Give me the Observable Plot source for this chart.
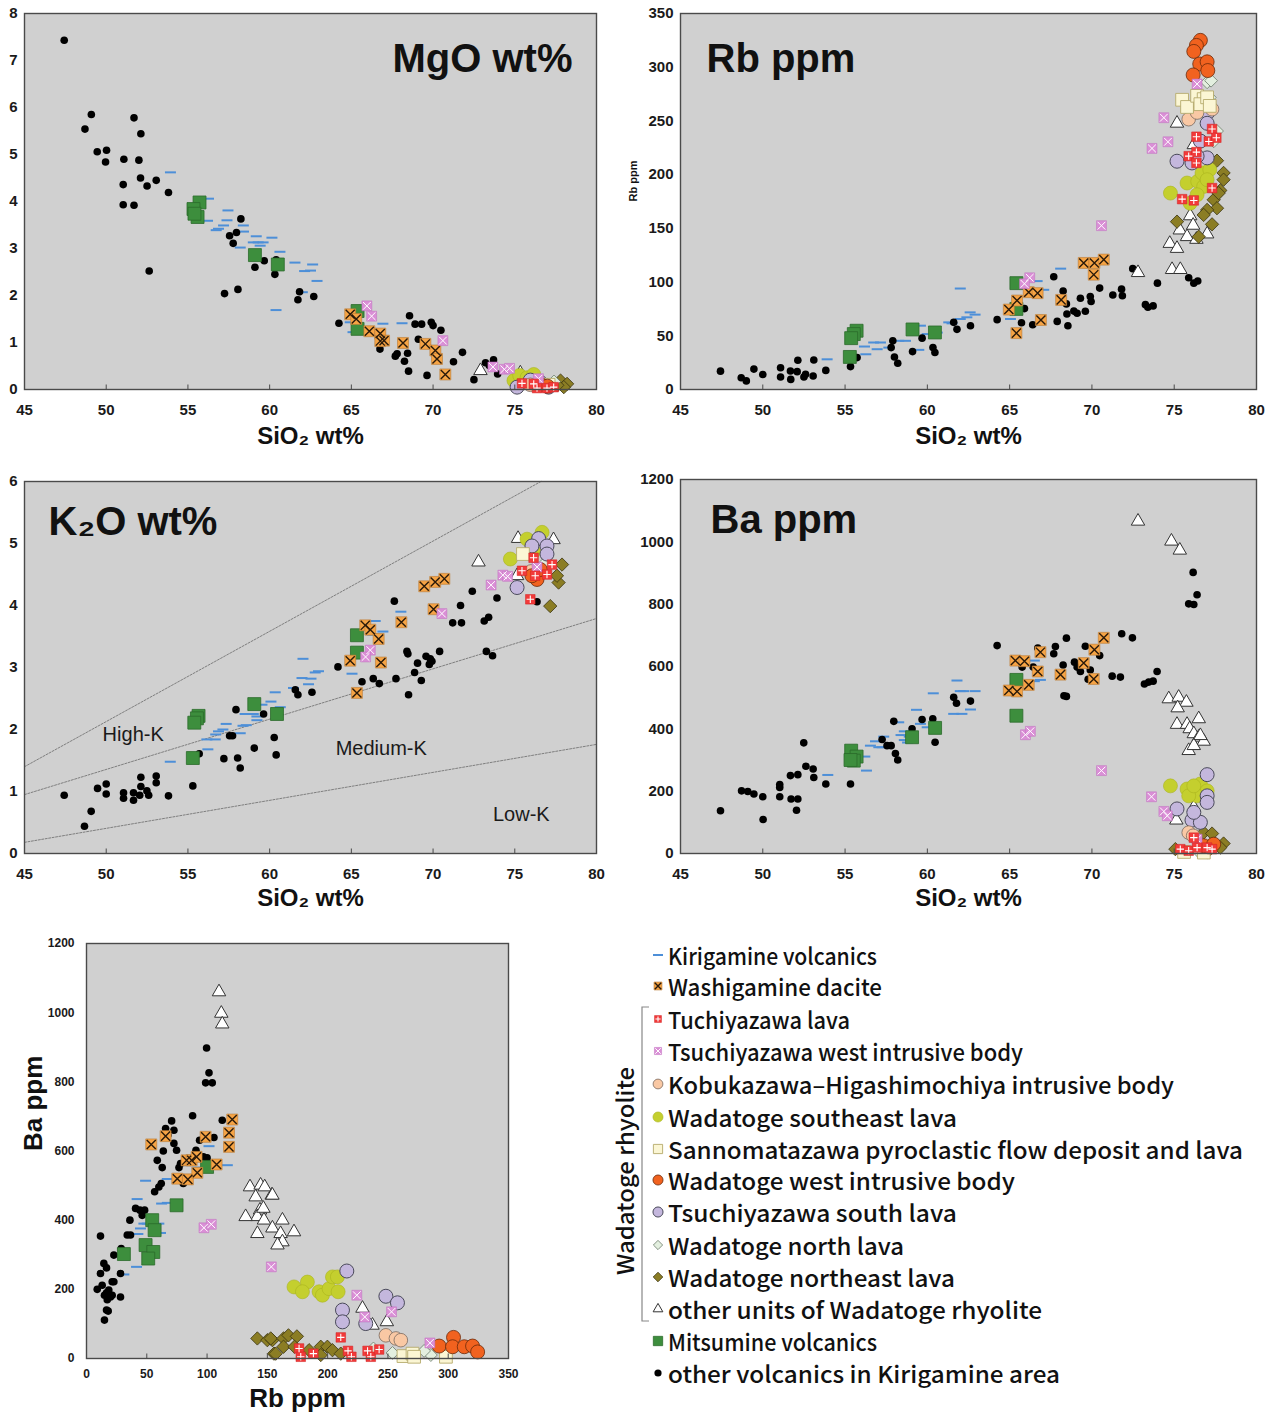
<!DOCTYPE html>
<html><head><meta charset="utf-8">
<script src="https://cdn.jsdelivr.net/npm/d3@7"></script>
<script src="https://cdn.jsdelivr.net/npm/@observablehq/plot@0.6"></script>
<style>
body{margin:0;background:#fff;}
#root{position:relative;width:1272px;height:1414px;overflow:hidden;background:#fff;}
.panel{position:absolute;}
</style></head><body><div id="root"></div><script>
// ---------------- DATA ----------------
// MgO wt% vs SiO2 wt%
const mgoOther=[[47.43,7.43],[49.09,5.85],[48.7,5.54],[49.45,5.06],[50.02,5.09],[49.96,4.84],[51.08,4.9],[51.04,4.36],[51.04,3.93],[51.7,3.92],[51.7,5.78],[52.12,5.44],[52.0,4.88],[52.1,4.5],[52.5,4.33],[53.06,4.45],[53.81,4.19],[52.63,2.52],[57.24,2.04],[58.06,2.13],[57.55,3.27],[57.77,3.11],[57.97,3.34],[58.24,3.63],[59.1,2.6],[59.67,2.74],[60.32,2.45],[60.4,2.76],[61.83,2.08],[61.73,1.91],[62.7,1.98],[64.24,1.41],[66.75,0.86],[68.56,1.57],[68.9,1.39],[69.3,1.39],[69.89,1.43],[70.0,1.36],[69.1,1.07],[67.69,0.71],[67.8,0.76],[68.25,0.6],[68.44,0.77],[68.5,0.39],[69.63,0.3],[70.48,1.26],[71.25,0.59],[71.8,0.79],[72.5,0.21],[73.21,0.57],[73.7,0.63],[73.44,0.51],[73.95,0.33],[76.15,0.35]];
const mgoKiri=[[53.93,4.62],[56.26,4.06],[56.2,3.59],[56.73,3.39],[56.87,3.42],[57.18,3.49],[57.45,3.81],[57.39,3.6],[58.39,3.49],[58.4,3.36],[58.2,3.02],[59.18,3.26],[59.0,3.13],[59.3,3.13],[59.6,3.13],[59.42,3.06],[60.14,3.23],[60.63,2.93],[60.39,1.69],[61.55,2.7],[62.14,2.52],[62.5,2.53],[62.63,2.66],[62.0,2.07],[62.9,2.31],[64.93,1.43],[66.93,1.4],[68.1,1.41],[66.52,1.2],[65.1,1.22]];
const mgoMitsu=[[55.71,3.98],[55.34,3.84],[55.59,3.67],[55.4,3.74],[59.1,2.86],[60.5,2.66],[65.38,1.67],[65.38,1.29]];
const mgoWashi=[[64.93,1.6],[65.3,1.5],[66.1,1.24],[66.77,1.19],[67.0,1.04],[66.77,1.03],[68.16,0.99],[69.53,0.97],[70.14,0.83],[70.24,0.65],[70.75,0.32]];
const mgoTsw=[[65.95,1.78],[66.24,1.56],[70.6,1.04],[73.66,0.48],[74.36,0.43],[74.68,0.45],[76.45,0.23]];
const mgoTri=[[72.9,0.4],[75.34,0.35]];
const mgoYgr=[[74.95,0.19],[75.3,0.3],[75.75,0.25],[76.16,0.32]];
const mgoLav=[[75.14,0.05],[75.95,0.2],[77.07,0.05],[76.57,0.15]];
const mgoRed=[[75.44,0.13],[76.36,0.03],[76.97,0.03],[77.38,0.05],[76.16,0.12]];
const mgoOlive=[[77.8,0.19],[78.2,0.12],[78.0,0.05],[77.6,0.09]];
const mgoOred=[[76.6,0.1],[77.0,0.07]];
const mgoPeach=[[75.95,0.1]];
const mgoCream=[[77.07,0.1]];
const mgoPale=[[77.4,0.17]];

// Rb ppm vs SiO2 wt%
const rbOther=[[47.43,17.1],[48.69,11],[49.0,8],[49.46,19],[50.0,14],[51.08,20.3],[51.08,11.6],[51.68,17.2],[51.7,9.4],[52.09,16.6],[52.13,27.2],[52.5,11.6],[52.6,14.1],[53.06,12.5],[53.1,27.5],[53.83,17.8],[55.33,21.3],[55.73,29.7],[57.9,45.3],[58.0,30.3],[58.2,24.4],[57.8,39],[59.1,35.3],[59.68,47.8],[60.34,39],[60.46,34.4],[61.6,62.5],[61.8,56],[62.62,59.4],[64.24,65],[65.72,62.2],[66.4,60.3],[65.9,75.3],[67.68,105],[68.25,91.6],[68.45,79.7],[68.48,70.3],[68.54,59.4],[67.89,63.4],[68.9,73],[69.1,71],[69.6,72.8],[69.3,85],[69.9,86.6],[69.95,81.9],[70.47,94.4],[71.27,88],[71.8,93.4],[71.85,87.2],[72.48,112.5],[73.25,79],[73.4,76.6],[73.72,77.8],[73.98,99],[75.88,104],[76.19,99],[76.43,101]];
const rbKiri=[[53.91,28.1],[56.26,32.8],[56.18,40],[56.74,43.75],[57.15,43.75],[56.95,37.5],[57.66,39],[58.26,45.3],[58.67,45.3],[59.58,59.4],[59.48,36.9],[59.99,51.6],[60.6,53],[61.3,62.5],[62.0,94],[62.6,71.8],[62.9,69.7],[62.4,67.2],[62.0,65.6],[61.5,61.6],[65.05,65.6],[66.67,100.9],[67.07,92.8],[68.1,112.5]];
const rbMitsu=[[55.7,54.7],[55.53,51.6],[55.37,47.8],[55.29,30.3],[59.1,55.9],[60.46,53.1],[65.41,99],[65.41,75]];
const rbWashi=[[69.5,117.8],[70.15,117.8],[70.72,120.9],[70.11,106.9],[65.41,52.5],[64.95,74.4],[65.45,82.8],[66.16,90.6],[66.7,89.7],[66.9,64.7],[68.13,83.4]];
const rbTsw=[[66.22,104],[65.9,98.4],[70.58,152.5],[74.37,253],[74.62,230.6],[73.65,224.4],[76.39,284.4]];
const rbOred=[[76.59,325],[76.35,320.3],[76.19,314.7],[76.55,303],[77.0,305],[77.04,296.9],[76.15,292.8]];
const rbCream=[[75.48,269.7],[75.78,263],[76.39,273.4],[76.79,270.3],[76.59,265.6],[77.0,272],[77.16,264]];
const rbPale=[[77.0,286],[77.24,287.5],[77.16,271.9],[77.6,240.6],[77.4,231]];
const rbPeach=[[75.88,251.6],[76.39,257.8],[77.3,260.9],[77.0,267]];
const rbLav=[[77.04,257.8],[77.0,247.8],[76.59,231.25],[75.17,212.5],[76.08,210.9],[77.0,215.6],[76.39,217.2]];
const rbRed=[[76.35,235.3],[77.3,242.5],[77.1,230.9],[77.56,234.4],[75.88,217.2],[76.35,221],[76.35,210.9],[77.3,187.5],[75.48,177.2],[76.19,176]];
const rbYgr=[[74.77,182.8],[75.78,192.2],[76.43,193.75],[76.69,201.6],[77.16,204.7],[76.79,189],[76.39,181.25],[75.97,173.4],[77.0,195.3]];
const rbOlive=[[77.6,213],[78.0,201.6],[78.0,195.3],[77.8,185.3],[77.4,176.6],[77.6,168.75],[77.0,167.2],[76.79,162.5],[77.3,153.75],[76.49,142.2],[75.17,156.25],[77.7,182.8]];
const rbTri=[[75.17,247.8],[76.19,227.8],[75.97,161.6],[76.15,152.8],[75.34,148.4],[75.78,142.2],[76.35,139.7],[77.0,144.7],[74.73,135.9],[75.17,131.25],[74.87,111.6],[75.37,111.6],[72.8,108.75]];

// K2O wt% vs SiO2 wt%
const k2oOther=[[47.43,0.94],[48.67,0.44],[49.08,0.68],[49.47,1.05],[50.0,1.12],[50.0,0.96],[51.06,0.98],[51.06,0.89],[51.67,0.98],[51.67,0.86],[52.12,1.23],[52.12,1.08],[52.05,0.94],[52.49,1.01],[52.6,0.94],[53.06,1.25],[53.06,1.14],[53.81,0.93],[55.3,1.09],[55.69,1.61],[57.2,1.53],[57.55,1.9],[57.73,1.9],[57.94,2.32],[58.04,1.54],[58.2,1.38],[59.06,1.7],[59.63,2.25],[60.28,1.87],[60.4,1.59],[61.57,2.64],[61.73,2.56],[62.59,2.6],[64.18,3.01],[65.65,2.77],[66.34,2.82],[66.71,2.74],[67.63,4.07],[67.73,2.82],[68.4,3.26],[68.46,3.22],[68.5,2.56],[68.87,2.92],[69.05,3.07],[69.28,2.79],[69.57,3.18],[69.83,3.14],[69.77,3.05],[69.93,3.1],[70.4,3.26],[71.2,3.72],[71.74,3.72],[71.68,4.0],[72.4,4.23],[73.13,3.75],[73.4,3.81],[73.26,3.26],[73.64,3.19],[73.91,4.12],[76.36,4.06]];
const k2oKiri=[[53.92,1.48],[56.22,1.68],[56.16,1.84],[56.67,1.84],[56.87,1.97],[57.14,2.0],[57.34,2.09],[56.7,1.92],[58.2,1.94],[58.37,2.06],[58.57,2.07],[58.5,2.25],[59.0,2.25],[59.22,2.21],[59.22,2.15],[59.53,2.4],[60.08,2.45],[60.34,2.6],[60.65,2.36],[62.04,3.14],[61.98,2.83],[62.53,2.82],[62.38,2.73],[62.79,2.92],[62.99,2.94],[61.46,2.67],[65.04,2.9],[66.46,3.75],[66.93,3.58],[68.03,3.9],[66.3,3.53]];
const k2oMitsu=[[55.65,2.22],[55.55,2.18],[55.39,2.11],[55.3,1.54],[59.06,2.41],[60.45,2.25],[65.34,3.52],[65.34,3.24]];
const k2oWashi=[[69.46,4.31],[70.13,4.38],[70.69,4.43],[70.03,3.94],[68.06,3.73],[65.85,3.68],[66.16,3.61],[66.67,3.46],[64.93,3.11],[66.81,3.08],[65.34,2.59]];
const k2oTsw=[[66.16,3.28],[65.87,3.17],[70.54,3.87],[73.55,4.33],[74.27,4.49],[74.56,4.47],[76.36,4.62]];
const k2oTri=[[72.78,4.7],[75.2,5.08],[77.37,5.06],[75.14,4.48]];
const k2oYgr=[[74.73,4.75],[76.67,5.18],[75.75,5.07],[76.15,4.87]];
const k2oLav=[[76.46,5.08],[76.97,4.96],[76.97,4.83],[76.05,4.96],[75.14,4.29]];
const k2oRed=[[76.15,4.77],[75.44,4.56],[77.28,4.66],[76.97,4.5],[76.25,4.48],[75.95,4.1]];
const k2oOred=[[76.36,4.42],[76.05,4.48],[76.56,4.58]];
const k2oOlive=[[77.89,4.66],[77.68,4.37],[77.17,3.99],[77.58,4.48]];
const k2oCream=[[75.5,4.83]];
const k2oPeach=[[76.0,4.55]];
const k2oPale=[[76.9,4.7]];
// K2O series boundary lines (SiO2, K2O) and field names
const kHighLine=[[45,1.4],[76.6,6.0]];
const kMedLine=[[45,0.95],[80,3.79]];
const kLowLine=[[45,0.18],[80,1.76]];
const kFieldNames=["High-K","Medium-K","Low-K"];
const kFieldX=[51.65,66.83,75.4];
const kFieldY=[1.91,1.7,0.62];

// Ba ppm vs SiO2 wt%
const baOther=[[47.43,137],[48.71,201],[49.09,199],[49.46,191],[50.0,182],[50.02,109],[51.03,221],[51.03,212],[51.03,182],[51.68,250],[51.72,175],[52.05,139],[52.13,175],[52.13,253],[52.49,355],[52.62,280],[53.06,271],[53.1,244],[53.83,223],[55.33,223],[57.25,366],[57.55,346],[57.8,346],[58.06,321],[58.2,300],[57.96,424],[59.07,400],[59.68,430],[60.33,432],[60.47,357],[61.6,501],[61.77,482],[62.62,489],[64.24,667],[66.71,659],[66.43,598],[67.78,664],[67.68,641],[68.45,691],[68.25,605],[68.94,614],[69.1,598],[69.3,584],[69.6,665],[69.9,589],[69.77,559],[70.47,635],[68.45,504],[68.3,506],[71.81,705],[72.46,692],[71.23,569],[71.73,566],[73.19,544],[73.45,550],[73.72,553],[73.96,584],[76.15,902],[76.39,830],[75.88,801],[76.19,799],[65.76,598]];
const baKiri=[[53.95,252],[56.2,311],[56.3,266],[56.54,346],[56.85,360],[57.05,341],[57.25,341],[57.35,375],[58.26,421],[58.4,380],[58.6,364],[58.8,356],[58.6,392],[58.9,375],[59.34,461],[59.58,416],[59.99,405],[60.4,416],[60.36,514],[61.6,448],[61.8,555],[62.0,521],[62.2,521],[62.9,521],[62.1,448],[62.62,462],[66.5,619],[66.87,557],[66.5,553]];
const baMitsu=[[55.37,330],[55.7,311],[55.53,298],[55.33,300],[59.07,373],[60.47,403],[65.41,557],[65.41,442]];
const baWashi=[[65.35,619],[65.9,617],[64.95,523],[65.45,520],[66.16,541],[66.71,584],[66.87,646],[68.09,574],[69.5,611],[70.15,654],[70.72,692],[70.11,560]];
const baTsw=[[65.96,381],[66.26,392],[70.58,266],[73.62,182],[74.37,135],[74.58,121],[76.39,46]];
const baTri=[[72.8,1066],[74.83,1002],[75.34,973],[74.67,496],[75.27,501],[75.74,485],[75.21,467],[75.17,414],[75.78,414],[75.94,400],[76.49,432],[76.19,384],[76.49,373],[76.79,360],[75.88,330],[76.19,346],[76.59,378],[75.13,107],[76.19,148]];
const baLav=[[77.0,253],[77.0,185],[77.0,164],[75.17,143],[76.08,107],[76.59,100],[76.19,132]];
const baYgr=[[74.77,217],[75.78,207],[76.59,223],[77.0,201],[76.39,185],[75.88,185],[76.19,217]];
const baPeach=[[75.88,67],[76.15,57]];
const baRed=[[75.37,14],[75.88,9],[76.39,19],[77.0,19],[77.3,14],[76.19,51]];
const baOlive=[[75.07,14],[76.79,67],[77.3,64],[78.0,32],[77.8,19],[77.0,5]];
const baCream=[[75.6,5],[76.8,3]];
const baOred=[[76.79,25],[77.4,30]];
const baPale=[[76.5,5]];

// Ba ppm vs Rb ppm
const brOther=[[11.6,354],[14.4,275],[16.6,262],[11.6,246],[13,212],[8.9,200],[16.6,190],[14.9,183],[17.2,170],[19.9,178],[21.3,222],[22.7,222],[18.5,198],[16.6,140],[18,137],[14.9,111],[28.2,178],[21.3,183],[22.7,299],[28.2,246],[28.8,318],[36,400],[33.8,357],[36.5,357],[40.7,434],[44.3,429],[48.2,429],[46.2,414],[56.5,482],[60,496],[62,506],[58.7,573],[63.7,600],[62.8,552],[65.6,665],[67.5,646],[70.6,687],[72.5,660],[72.5,622],[74.7,602],[78,564],[76.7,552],[80.3,506],[83.6,578],[88,702],[90.8,602],[93.8,631],[96.9,583],[100,580],[99.6,898],[101.6,826],[98.8,797],[104.3,797],[105.7,639],[112.6,689]];
const brKiri=[[31,243],[41.5,265],[42,461],[37.1,360],[42.6,360],[44.8,376],[47.6,390],[50.4,390],[54.5,388],[60,390],[61.4,363],[49,514],[67,519],[62.3,448],[67,450],[82.2,559],[91.9,552],[101.6,614],[116.8,559]];
const brMitsu=[[31,302],[54.5,400],[56.5,371],[49,328],[55.4,308],[51.2,289],[74.7,443],[100,554]];
const brWashi=[[53.7,619],[65.6,643],[83,573],[87.2,573],[91.3,583],[75.3,520],[84.1,518],[91.9,537],[98.8,641],[107.9,561],[120.9,691],[118.2,653],[118.2,612]];
const brTsw=[[97.4,378],[103.5,388],[153.3,265],[224.2,183],[230.8,120],[253,135],[284.8,45]];
const brTri=[[109.9,1060],[111.8,998],[112.6,967],[135.6,496],[144.4,501],[153.6,472],[140.3,467],[143.9,429],[141.7,410],[132,410],[147.2,400],[141.7,361],[147.8,496],[154.2,472],[146.7,434],[162.5,400],[172.1,366],[154.2,377],[161,361],[162.5,337],[158.4,328],[228.9,145],[249.1,106],[237.2,96]];
const brYgr=[[172.1,207],[183.2,221],[192.9,193],[195.7,183],[201.2,202],[204,236],[208.1,236],[208.7,193],[179.1,193]];
const brLav=[[215.9,253],[212.3,140],[212.3,106],[248.3,180],[257.9,161],[231.6,101]];
const brPeach=[[248.3,67],[256.6,58],[260.7,53]];
const brCream=[[262.9,7],[270.4,14],[271.7,5],[298.1,5]];
const brPale=[[253.8,16],[285.6,10],[280,22],[238,29]];
const brOred=[[292.5,36],[304.4,61],[303.6,34],[313.3,34],[320.2,36],[324.4,19]];
const brRed=[[176.3,29],[177.7,5],[188.2,14],[210.9,61],[216.9,22],[219.7,5],[233.1,22],[235.8,5],[242.7,26]];
const brOlive=[[141.7,58],[150,53],[154.2,53],[155.5,14],[152.8,58],[163.4,58],[167.5,67],[174.5,64],[156.9,14],[163.4,34],[194.3,34],[199.8,34],[194.3,10],[204,24],[210.9,14],[172.5,34],[184.6,24]];

// tick values and texts
const sio2Ticks=[45,50,55,60,65,70,75,80];
const mgoTicks=[0,1,2,3,4,5,6,7,8];
const rbTicks=[0,50,100,150,200,250,300,350];
const k2oTicks=[0,1,2,3,4,5,6];
const baTicks=[0,200,400,600,800,1000,1200];
const legendKeys=["kiri","washi","red","tsw","peach","ygr","cream","ored","lav","pale","olive","tri","mitsu","other"];
const legendLabels=["Kirigamine volcanics","Washigamine dacite","Tuchiyazawa lava","Tsuchiyazawa west intrusive body","Kobukazawa\u2013Higashimochiya intrusive body","Wadatoge southeast lava","Sannomatazawa pyroclastic flow deposit and lava","Wadatoge west intrusive body","Tsuchiyazawa south lava","Wadatoge north lava","Wadatoge northeast lava","other units of Wadatoge rhyolite","Mitsumine volcanics","other volcanics in Kirigamine area"];
const groupLabel="Wadatoge rhyolite";

// ---------------- STYLES ----------------
const dashSym={draw(ctx,size){const w=Math.sqrt(size)*0.62;ctx.moveTo(-w,0);ctx.lineTo(w,0);}};
const upTick={draw(ctx){ctx.moveTo(0,0);ctx.lineTo(0,-5);}};
const ST={
  kiri:{sym:dashSym,r:5,fill:"none",stroke:"#4d8fd8",sw:2},
  washi:{sym:"square",r:6.2,fill:"#f6a445",stroke:"#b87a35",sw:0.6,over:{sym:"times",r:4.2,stroke:"#2a1a0a",sw:1.4}},
  red:{sym:"square",r:5.4,fill:"#f23a3a",stroke:"#d02020",sw:0.5,over:{sym:"plus",r:2.5,stroke:"#ffffff",sw:1.1}},
  tsw:{sym:"square",r:5.6,fill:"#da8fd6",stroke:"#c070c0",sw:0.5,over:{sym:"times",r:3.6,stroke:"#ffffff",sw:1}},
  peach:{sym:"circle",r:6.8,fill:"#f9c8a4",stroke:"#7a6a60",sw:0.8},
  ygr:{sym:"circle",r:7,fill:"#c4cf2e",stroke:"#aab31e",sw:0.6},
  cream:{sym:"square",r:7.2,fill:"#fbf6d4",stroke:"#b6aa6c",sw:0.9},
  ored:{sym:"circle",r:7,fill:"#f1621f",stroke:"#6a2a0a",sw:0.8},
  lav:{sym:"circle",r:7,fill:"#c4b7dd",stroke:"#4a4a5a",sw:1},
  pale:{sym:"diamond2",r:5.8,fill:"#e3efdf",stroke:"#6a7a6a",sw:0.8},
  olive:{sym:"diamond2",r:6,fill:"#8b7d24",stroke:"#3a3310",sw:0.8},
  tri:{sym:"triangle",r:5,fill:"#ffffff",stroke:"#333333",sw:1},
  mitsu:{sym:"square",r:7.3,fill:"#3d8e3d",stroke:"#2b6b2b",sw:0.8},
  other:{sym:"circle",r:3.8,fill:"#000000",stroke:"none",sw:0}
};
const FONT="'Liberation Sans', Arial, sans-serif";

function layer(data,key,k=1){
  const s=ST[key];
  const m=[Plot.dot(data,{x:d=>d[0],y:d=>d[1],symbol:s.sym,r:s.r*k,fill:s.fill,stroke:s.stroke,strokeWidth:s.sw})];
  if(s.over) m.push(Plot.dot(data,{x:d=>d[0],y:d=>d[1],symbol:s.over.sym,r:s.over.r*k,fill:"none",stroke:s.over.stroke,strokeWidth:s.over.sw}));
  return m;
}

function panel(c){
  const [mt,mr,mb,ml]=c.margin;
  const marks=[
    Plot.frame({fill:"#d0d0d0",stroke:"none"}),
    ...(c.under||[]),
    ...c.layers.flatMap(([d,k])=>layer(d,k,c.k||1)),
    Plot.frame({stroke:"#4a4a4a",strokeWidth:1.4}),
    Plot.dot(c.xTicks,{x:d=>d,y:c.yDomain[0],symbol:upTick,stroke:"#4a4a4a",strokeWidth:1}),
    Plot.axisX({ticks:c.xTicks,tickSize:0,tickPadding:c.xPad,fontSize:c.tickFont,fontWeight:"bold",fill:"#1a1a1a",label:null,tickFormat:d=>String(d)}),
    Plot.axisY({ticks:c.yTicks,tickSize:0,tickPadding:c.yPad,fontSize:c.tickFont,fontWeight:"bold",fill:"#1a1a1a",label:null,tickFormat:d=>String(d)}),
    Plot.text([c.xTitle],{frameAnchor:"bottom",lineAnchor:"middle",dy:c.xTitleDy,text:d=>d,fontSize:c.xTitleSize,fontWeight:"bold",fill:"#111",ariaLabel:"xtitle"}),
  ];
  if(c.title) marks.push(Plot.text([c.title],{frameAnchor:c.titleAnchor,lineAnchor:"middle",dx:c.titleDx,dy:c.titleDy,text:d=>d,textAnchor:c.titleTextAnchor,fontSize:40,fontWeight:"bold",fill:"#111",ariaLabel:"ptitle"}));
  if(c.yTitle) marks.push(Plot.text([c.yTitle],{frameAnchor:"left",lineAnchor:"middle",dx:c.yTitleDx,rotate:-90,text:d=>d,fontSize:c.yTitleSize,fontWeight:"bold",fill:"#111",ariaLabel:"ytitle"}));
  if(c.extra) marks.push(...c.extra);
  const svg=Plot.plot({
    width:c.width,height:c.height,marginTop:mt,marginRight:mr,marginBottom:mb,marginLeft:ml,
    style:{fontFamily:FONT,background:"transparent",overflow:"visible"},
    x:{domain:c.xDomain},y:{domain:c.yDomain},
    marks
  });
  const sel=d3.select(svg);
  if(c.titleLen) sel.selectAll('g[aria-label="ptitle"] text').attr("textLength",c.titleLen).attr("lengthAdjust","spacingAndGlyphs");
  if(c.xTitleLen) sel.selectAll('g[aria-label="xtitle"] text').attr("textLength",c.xTitleLen).attr("lengthAdjust","spacingAndGlyphs");
  if(c.yTitleLen) sel.selectAll('g[aria-label="ytitle"] text').attr("textLength",c.yTitleLen).attr("lengthAdjust","spacingAndGlyphs");
  const div=document.createElement("div");
  div.className="panel";div.style.left=c.left+"px";div.style.top=c.top+"px";
  div.appendChild(svg);
  document.getElementById("root").appendChild(div);
}

const ORDER=["kiri","other","mitsu","washi","tri","olive","pale","ygr","lav","peach","cream","ored","tsw","red"];
function layersOf(obj){return ORDER.filter(k=>obj[k]).map(k=>[obj[k],k]);}

// Panel 1: MgO
panel({left:0,top:0,width:620,height:460,margin:[13,24,71,24],xDomain:[45,80],yDomain:[0,8],xTicks:sio2Ticks,yTicks:mgoTicks,
  tickFont:15,xPad:15,yPad:7,xTitle:"SiO\u2082 wt%",xTitleDy:47,xTitleSize:24,xTitleLen:110,
  title:"MgO wt%",titleAnchor:"top-right",titleDx:-24,titleDy:46,titleTextAnchor:"end",titleLen:170,
  layers:layersOf({kiri:mgoKiri,other:mgoOther,mitsu:mgoMitsu,washi:mgoWashi,tri:mgoTri,olive:mgoOlive,pale:mgoPale,ygr:mgoYgr,lav:mgoLav,peach:mgoPeach,cream:mgoCream,ored:mgoOred,tsw:mgoTsw,red:mgoRed})});

// Panel 2: Rb
panel({left:620,top:0,width:652,height:460,margin:[13,16,71,60],xDomain:[45,80],yDomain:[0,350],xTicks:sio2Ticks,yTicks:rbTicks,
  tickFont:15,xPad:15,yPad:7,xTitle:"SiO\u2082 wt%",xTitleDy:47,xTitleSize:24,xTitleLen:110,
  title:"Rb ppm",titleAnchor:"top-left",titleDx:26,titleDy:46,titleTextAnchor:"start",titleLen:144,
  yTitle:"Rb ppm",yTitleDx:-47,yTitleSize:11,
  layers:layersOf({kiri:rbKiri,other:rbOther,mitsu:rbMitsu,washi:rbWashi,tri:rbTri,olive:rbOlive,pale:rbPale,ygr:rbYgr,lav:rbLav,peach:rbPeach,cream:rbCream,ored:rbOred,tsw:rbTsw,red:rbRed})});

// Panel 3: K2O
const kLineStyle={x:d=>d[0],y:d=>d[1],stroke:"#6a6a6a",strokeWidth:0.8,strokeDasharray:"2,1.5"};
panel({left:0,top:468,width:620,height:462,margin:[13,24,77,24],xDomain:[45,80],yDomain:[0,6],xTicks:sio2Ticks,yTicks:k2oTicks,
  tickFont:15,xPad:15,yPad:7,xTitle:"SiO\u2082 wt%",xTitleDy:45,xTitleSize:24,xTitleLen:110,
  title:"K\u2082O wt%",titleAnchor:"top-left",titleDx:24,titleDy:41,titleTextAnchor:"start",titleLen:154,
  under:[Plot.line(kHighLine,kLineStyle),Plot.line(kMedLine,kLineStyle),Plot.line(kLowLine,kLineStyle),
    Plot.text(kFieldNames,{x:(d,i)=>kFieldX[i],y:(d,i)=>kFieldY[i],text:d=>d,fontSize:20,fill:"#1a1a1a",fontWeight:500})],
  layers:layersOf({kiri:k2oKiri,other:k2oOther,mitsu:k2oMitsu,washi:k2oWashi,tri:k2oTri,olive:k2oOlive,pale:k2oPale,ygr:k2oYgr,lav:k2oLav,peach:k2oPeach,cream:k2oCream,ored:k2oOred,tsw:k2oTsw,red:k2oRed})});

// Panel 4: Ba
panel({left:620,top:468,width:652,height:462,margin:[11,16,77,60],xDomain:[45,80],yDomain:[0,1200],xTicks:sio2Ticks,yTicks:baTicks,
  tickFont:15,xPad:15,yPad:7,xTitle:"SiO\u2082 wt%",xTitleDy:45,xTitleSize:24,xTitleLen:110,
  title:"Ba ppm",titleAnchor:"top-left",titleDx:30,titleDy:41,titleTextAnchor:"start",titleLen:143,
  layers:layersOf({kiri:baKiri,other:baOther,mitsu:baMitsu,washi:baWashi,tri:baTri,olive:baOlive,pale:baPale,ygr:baYgr,lav:baLav,peach:baPeach,cream:baCream,ored:baOred,tsw:baTsw,red:baRed})});

// Panel 5: Ba vs Rb
panel({left:0,top:930,width:540,height:484,margin:[13,32,56,86],xDomain:[0,350],yDomain:[0,1200],xTicks:rbTicks,yTicks:baTicks,
  tickFont:12,xPad:11,yPad:12,xTitle:"Rb ppm",xTitleDy:40,xTitleSize:26,xTitleLen:96,
  yTitle:"Ba ppm",yTitleDx:-53,yTitleSize:26,yTitleLen:93,
  layers:layersOf({kiri:brKiri,other:brOther,mitsu:brMitsu,washi:brWashi,tri:brTri,olive:brOlive,pale:brPale,ygr:brYgr,lav:brLav,peach:brPeach,cream:brCream,ored:brOred,tsw:brTsw,red:brRed})});

// ---------------- LEGEND ----------------
(function(){
  const rowY=[25,56,89,121,154,187,219,250,282,315,347,379,411,443];
  const textLen=[209,214,182,355,506,289,575,347,289,236,287,374,209,392];
  const symMap={circle:d3.symbolCircle,square:d3.symbolSquare,diamond2:d3.symbolDiamond2,triangle:d3.symbolTriangle,times:d3.symbolTimes,plus:d3.symbolPlus};
  const svg=d3.create("svg").attr("width",672).attr("height",470).style("position","absolute").style("left","600px").style("top","930px");
  const k=0.72;
  legendKeys.forEach((key,i)=>{
    const s=ST[key];const g=svg.append("g").attr("transform",`translate(58,${rowY[i]})`);
    if(s.sym===dashSym){g.append("path").attr("d","M-5,0H5").attr("stroke",s.stroke).attr("stroke-width",2);}
    else{
      const r=(key==="other"?3.6:s.r*k);
      g.append("path").attr("d",d3.symbol(symMap[s.sym],Math.PI*r*r)()).attr("fill",s.fill).attr("stroke",s.stroke).attr("stroke-width",s.sw);
      if(s.over){const ro=s.over.r*k;g.append("path").attr("d",d3.symbol(symMap[s.over.sym],Math.PI*ro*ro)()).attr("fill","none").attr("stroke",s.over.stroke).attr("stroke-width",s.over.sw);}
    }
    svg.append("text").attr("x",68).attr("y",rowY[i]).attr("dominant-baseline","central")
      .attr("font-family","'Noto Sans CJK JP', 'Noto Sans', sans-serif").attr("font-size",23).attr("font-weight",500).attr("fill","#111")
      .attr("textLength",textLen[i]).attr("lengthAdjust","spacingAndGlyphs").text(legendLabels[i]);
  });
  svg.append("path").attr("d","M49,77H42V391H49").attr("fill","none").attr("stroke","#888").attr("stroke-width",1.2);
  svg.append("text").attr("transform","translate(24,241) rotate(-90)").attr("text-anchor","middle").attr("dominant-baseline","central")
    .attr("font-family","'Noto Sans CJK JP', 'Noto Sans', sans-serif").attr("font-size",23).attr("font-weight",500).attr("fill","#111")
    .attr("textLength",208).attr("lengthAdjust","spacingAndGlyphs").text(groupLabel);
  document.getElementById("root").appendChild(svg.node());
})();
</script></body></html>
